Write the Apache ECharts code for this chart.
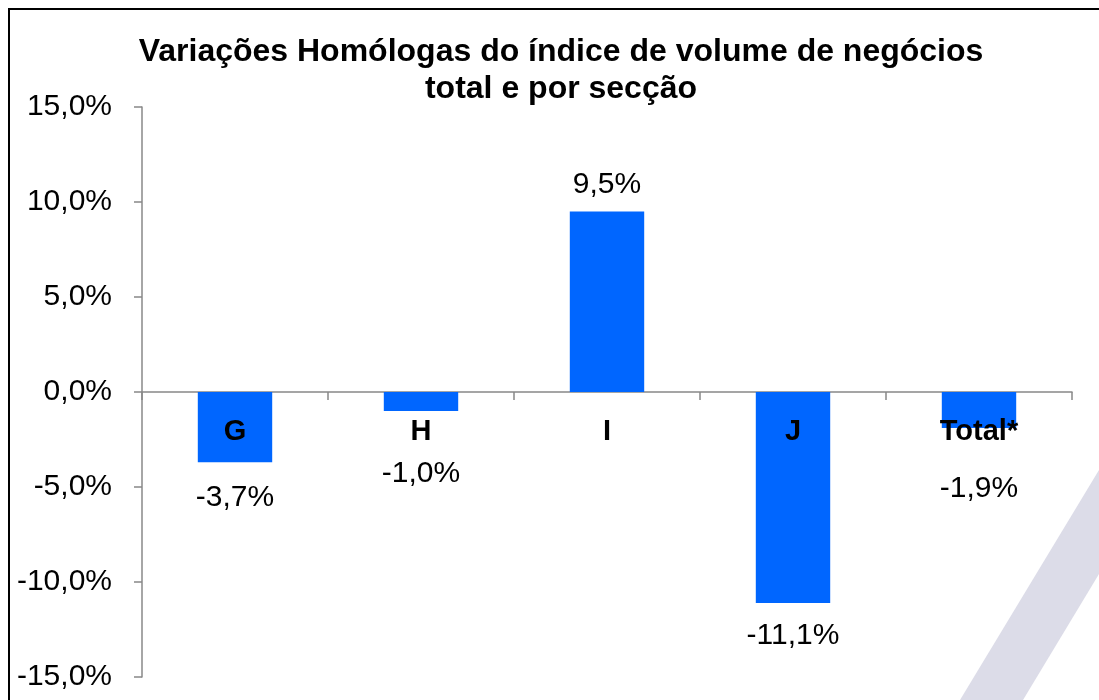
<!DOCTYPE html>
<html>
<head>
<meta charset="utf-8">
<script src="https://cdn.jsdelivr.net/npm/echarts@6/dist/echarts.min.js"></script>
<style>
 html,body{margin:0;padding:0;background:#fff;}
 #chart{width:1099px;height:700px;}
</style>
</head>
<body>
<div id="chart"></div>
<script>
// categorias e variações homólogas (%)
var categories = ['G', 'H', 'I', 'J', 'Total*'];
var values = [-3.7, -1.0, 9.5, -11.1, -1.9];
// distância do rótulo de valor à barra (as barras pequenas ficam abaixo do nome)
var labelDist = [20, 48, 12, 18, 46];
var zeros = [0, 0, 0, 0, 0];

var fontFam = '"Liberation Sans", Arial, sans-serif';

function pct(v) {
  return v.toFixed(1).replace('.', ',') + '%';
}

var myChart = echarts.init(document.getElementById('chart'));

var seriesData = values.map(function (v, i) {
  return {
    value: v,
    label: {
      position: v < 0 ? 'bottom' : 'top',
      distance: labelDist[i]
    }
  };
});

var option = {
  backgroundColor: '#fff',
  animation: false,
  title: {
    text: 'Variações Homólogas do índice de volume de negócios\ntotal e por secção',
    left: 556,
    top: 29,
    textAlign: 'center',
    textStyle: {
      fontFamily: fontFam,
      fontWeight: 'bold',
      fontSize: 32,
      lineHeight: 37,
      color: '#000'
    }
  },
  graphic: [
    {
      type: 'polygon',
      z: -10,
      silent: true,
      shape: { points: [[960, 700], [1023, 700], [1099, 574], [1099, 470]] },
      style: { fill: '#dcdce8' }
    },
    {
      type: 'rect',
      z: 100,
      silent: true,
      shape: { x: 9, y: 9, width: 1200, height: 800 },
      style: { fill: 'none', stroke: '#000', lineWidth: 2 }
    }
  ],
  grid: {
    left: 142,
    right: 27,
    top: 107,
    bottom: 23,
    containLabel: false,
    outerBoundsMode: 'none'
  },
  xAxis: {
    type: 'category',
    data: categories,
    axisLine: { onZero: true, lineStyle: { color: '#888', width: 1.5 } },
    axisTick: { show: true, length: 8, lineStyle: { color: '#888', width: 1.5 } },
    axisLabel: { show: false },
    splitLine: { show: false }
  },
  yAxis: {
    type: 'value',
    min: -15,
    max: 15,
    interval: 5,
    axisLine: { show: true, lineStyle: { color: '#888', width: 1.5 } },
    axisTick: { show: true, length: 8, lineStyle: { color: '#888', width: 1.5 } },
    axisLabel: {
      margin: 30,
      fontFamily: fontFam,
      fontSize: 30,
      color: '#000',
      formatter: function (v) { return pct(v); }
    },
    splitLine: { show: false }
  },
  series: [{
    type: 'bar',
    data: seriesData,
    barWidth: '40%',
    z: 2,
    itemStyle: { color: '#0066ff' },
    label: {
      show: true,
      fontFamily: fontFam,
      fontSize: 30,
      color: '#000',
      formatter: function (p) { return pct(p.value); }
    }
  }, {
    // nomes das secções logo abaixo da linha do zero
    type: 'scatter',
    data: zeros,
    symbolSize: 0,
    silent: true,
    z: 20,
    itemStyle: { color: '#000', opacity: 1 },
    label: {
      show: true,
      position: 'bottom',
      distance: 25,
      fontFamily: fontFam,
      fontWeight: 'bold',
      fontSize: 29,
      color: '#000',
      opacity: 1,
      formatter: function (p) { return categories[p.dataIndex]; }
    }
  }]
};
myChart.setOption(option);
</script>
</body>
</html>
